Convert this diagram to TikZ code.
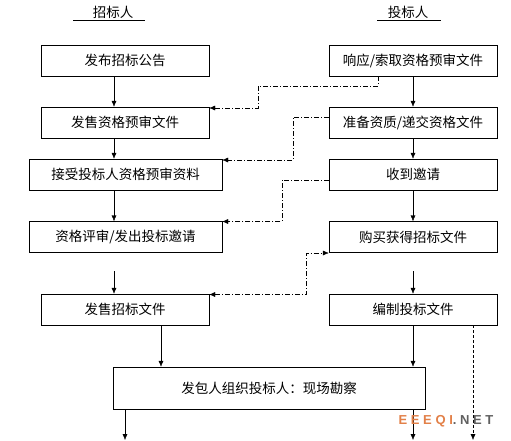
\documentclass[tikz,border=0pt]{standalone}
\usepackage{fontspec}
\setmainfont{Noto Sans CJK SC}
\newfontfamily\markfont[LetterSpace=28]{Liberation Sans Bold}
\usetikzlibrary{arrows.meta}
\definecolor{markorange}{RGB}{226,128,72}
\definecolor{markgray}{RGB}{96,96,96}
\begin{document}
\begin{tikzpicture}[
    x=1pt, y=-1pt,
    every node/.style={font=\fontsize{13.5}{15}\selectfont},
    step_box/.style={rectangle, draw, thin, minimum width=168pt, minimum height=31pt, inner sep=0pt},
    wide_box/.style={step_box, minimum width=193pt},
    site_box/.style={step_box, minimum width=312pt, minimum height=42pt},
    flow/.style={draw, thin, -{Latex[length=6pt,width=5pt]}},
    link_line/.style={draw, thin, dash pattern=on 5pt off 2pt on 1pt off 2pt, -{Latex[length=6pt,width=5pt]}},
    head/.style={inner sep=0pt}
]
\useasboundingbox (0,0) rectangle (511,440);
% headers
\node[head] (tz) at (113,12) {招标人};
\node[head] (tb) at (408,12) {投标人};
\draw[thin] (73,20) -- (145,20);
\draw[thin] (377,20) -- (441,20);
% left column
\node[step_box] (L1) at (125,60.5) {发布招标公告};
\node[step_box] (L2) at (125,122.5) {发售资格预审文件};
\node[wide_box] (L3) at (125.5,174.5) {接受投标人资格预审资料};
\node[wide_box] (L4) at (125.5,237) {资格评审/发出投标邀请};
\node[step_box] (L5) at (125,309.5) {发售招标文件};
\node[site_box] (L6) at (269,388) {发包人组织投标人：现场勘察};
% right column
\node[step_box] (R1) at (413,60.5) {响应/索取资格预审文件};
\node[step_box] (R2) at (413,122.5) {准备资质/递交资格文件};
\node[step_box] (R3) at (413,174.5) {收到邀请};
\node[step_box] (R4) at (413,237) {购买获得招标文件};
\node[step_box] (R5) at (413,309.5) {编制投标文件};
% helper points
\coordinate (xl) at (114,0);
\coordinate (xm) at (161,0);
\coordinate (xo) at (125,440);
\coordinate (xr) at (413,440);
\coordinate (xd) at (473,440);
\coordinate (gl) at (114,271);
\coordinate (gr) at (413,271);
% main flow
\draw[flow] (L1.south -| xl) -- (L2.north -| xl);
\draw[flow] (L2.south -| xl) -- (L3.north -| xl);
\draw[flow] (L3.south -| xl) -- (L4.north -| xl);
\draw[flow] (gl) -- (L5.north -| xl);
\draw[flow] (L5.south -| xm) -- (L6.north -| xm);
\draw[flow] (L6.south -| xo) -- (xo);
\draw[flow] (R1.south) -- (R2.north);
\draw[flow] (R2.south) -- (R3.north);
\draw[flow] (R3.south) -- (R4.north);
\draw[flow] (gr) -- (R5.north);
\draw[flow] (R5.south) -- (L6.north -| R5.south);
\draw[flow] (L6.south -| xr) -- (xr);
\draw[flow, dashed, dash pattern=on 3pt off 2pt] (R5.south -| xd) -- (xd);
% cross links
\coordinate (a1) at (378,86);
\coordinate (a2) at (258,108);
\draw[link_line] (R1.south -| a1) -- (a1) -| (a2) -- (L2.east |- a2);
\coordinate (b1) at (293,117);
\coordinate (b2) at (293,160);
\draw[link_line] (R2.west |- b1) -- (b1) -- (b2) -- (L3.east |- b2);
\coordinate (c1) at (282,180);
\coordinate (c2) at (282,221.5);
\draw[link_line] (R3.west |- c1) -- (c1) -- (c2) -- (L4.east |- c2);
\coordinate (d1) at (306,294.5);
\coordinate (d2) at (306,253);
\draw[link_line, {Latex[length=6pt,width=5pt]}-{Latex[length=6pt,width=5pt]}] (L5.east |- d1) -- (d1) -- (d2) -- (R4.west |- d2);
% mark
\node[inner sep=0pt, font=\markfont\fontsize{13}{14}\selectfont] (mark) at (446,421) {\textcolor{markorange}{EEEQI}\textcolor{markgray}{.NET}};
\end{tikzpicture}
\end{document}
